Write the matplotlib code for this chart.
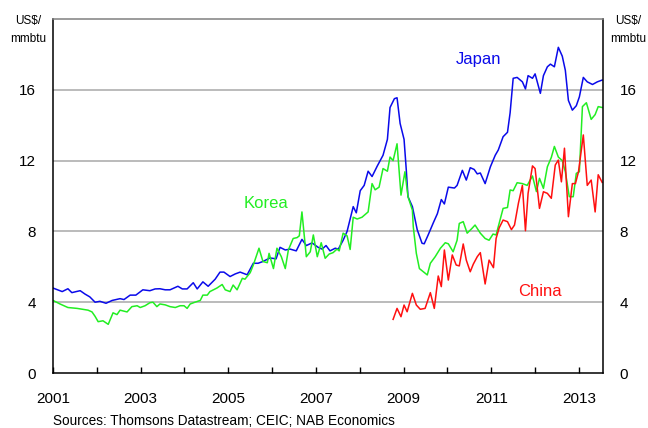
import matplotlib
matplotlib.use('Agg')
import matplotlib.pyplot as plt
from matplotlib.ticker import FixedLocator

plt.rcParams['font.family'] = ['Liberation Sans', 'DejaVu Sans']

# LNG import prices, US$/mmbtu (decimal year, value)
japan_t = [2001.00, 2001.21, 2001.34, 2001.43, 2001.53, 2001.62, 2001.73, 2001.84, 2001.96,
           2002.07, 2002.21, 2002.35, 2002.53, 2002.62, 2002.76, 2002.89,
           2003.05, 2003.21, 2003.33, 2003.44, 2003.56, 2003.67, 2003.85, 2003.95,
           2004.06, 2004.20, 2004.29, 2004.42, 2004.54, 2004.70, 2004.81, 2004.90,
           2005.04, 2005.16, 2005.27, 2005.43, 2005.57, 2005.68, 2005.79, 2005.95,
           2006.09, 2006.18, 2006.30, 2006.41, 2006.55, 2006.68, 2006.78, 2006.91,
           2007.05, 2007.14, 2007.23, 2007.32, 2007.44, 2007.51, 2007.62, 2007.71, 2007.85, 2007.92,
           2008.01, 2008.10, 2008.19, 2008.28, 2008.40, 2008.53, 2008.63, 2008.69, 2008.79, 2008.85, 2008.92,
           2009.01, 2009.06, 2009.10, 2009.20, 2009.31, 2009.42, 2009.47, 2009.56, 2009.68, 2009.77, 2009.86, 2009.93,
           2010.02, 2010.16, 2010.22, 2010.34, 2010.43, 2010.52, 2010.61, 2010.68, 2010.75, 2010.86, 2010.98,
           2011.09, 2011.16, 2011.27, 2011.37, 2011.43, 2011.50, 2011.59, 2011.71, 2011.78, 2011.84, 2011.94,
           2012.00, 2012.12, 2012.19, 2012.28, 2012.35, 2012.44, 2012.53, 2012.62, 2012.69, 2012.76, 2012.85, 2012.94,
           2013.01, 2013.10, 2013.19, 2013.31, 2013.42, 2013.53]
japan_v = [4.8, 4.6, 4.76, 4.54, 4.6, 4.65, 4.46, 4.3, 4.0,
           4.05, 3.94, 4.1, 4.2, 4.15, 4.4, 4.4,
           4.7, 4.65, 4.75, 4.76, 4.7, 4.7, 4.9, 4.75,
           4.75, 5.1, 4.75, 5.15, 4.9, 5.3, 5.7, 5.7,
           5.45, 5.6, 5.7, 5.55, 6.2, 6.2, 6.3, 6.5,
           6.45, 7.1, 6.95, 7.0, 6.9, 7.55, 7.2, 7.35,
           7.1, 7.0, 7.2, 6.9, 7.05, 7.0, 7.5, 8.0, 9.4, 9.05,
           10.3, 10.6, 11.4, 11.1, 11.7, 12.3, 13.2, 15.0, 15.5, 15.55, 14.1,
           13.2, 11.5, 9.96, 9.4, 8.1, 7.33, 7.3, 7.8, 8.5, 9.0, 9.8, 9.55,
           10.5, 10.45, 10.6, 11.45, 10.9, 11.6, 11.5, 11.25, 11.3, 10.7, 11.65,
           12.3, 12.6, 13.35, 13.6, 14.7, 16.65, 16.7, 16.45, 16.05, 16.8, 16.65,
           16.9, 15.8, 16.8, 17.3, 17.45, 17.3, 18.4, 17.9, 17.1, 15.4, 14.85, 15.1,
           15.6, 16.7, 16.45, 16.3, 16.45, 16.55]

korea_t = [2001.00, 2001.16, 2001.34, 2001.55, 2001.68, 2001.80, 2001.89, 2001.96,
           2002.03, 2002.14, 2002.26, 2002.37, 2002.46, 2002.53, 2002.69, 2002.80, 2002.92, 2002.99,
           2003.10, 2003.21, 2003.28, 2003.37, 2003.44, 2003.56, 2003.67, 2003.79, 2003.90, 2003.99,
           2004.06, 2004.13, 2004.24, 2004.36, 2004.42, 2004.52, 2004.58, 2004.74, 2004.86, 2004.93,
           2005.04, 2005.11, 2005.20, 2005.32, 2005.38, 2005.50, 2005.57, 2005.70, 2005.79, 2005.89, 2005.93,
           2006.03, 2006.11, 2006.21, 2006.30, 2006.37, 2006.48, 2006.57, 2006.62, 2006.68, 2006.78, 2006.87, 2006.94,
           2007.03, 2007.12, 2007.21, 2007.30, 2007.39, 2007.48, 2007.53, 2007.62, 2007.71, 2007.78, 2007.85, 2007.94,
           2008.05, 2008.19, 2008.28, 2008.35, 2008.44, 2008.53, 2008.63, 2008.69, 2008.76, 2008.85, 2008.94,
           2009.03, 2009.10, 2009.20, 2009.22, 2009.29, 2009.36, 2009.45, 2009.54, 2009.61, 2009.72, 2009.84, 2009.95,
           2010.02, 2010.13, 2010.22, 2010.27, 2010.36, 2010.45, 2010.56, 2010.63, 2010.75, 2010.86, 2010.95,
           2011.04, 2011.11, 2011.18, 2011.27, 2011.37, 2011.43, 2011.50, 2011.59, 2011.71, 2011.82, 2011.94,
           2012.03, 2012.10, 2012.19, 2012.28, 2012.37, 2012.44, 2012.53, 2012.62, 2012.69, 2012.78, 2012.87, 2012.94,
           2013.01, 2013.08, 2013.17, 2013.28, 2013.37, 2013.44, 2013.53]
korea_v = [4.1, 3.9, 3.7, 3.65, 3.6, 3.55, 3.45, 3.2,
           2.9, 2.95, 2.75, 3.4, 3.3, 3.55, 3.45, 3.75, 3.8, 3.7,
           3.8, 3.97, 4.0, 3.75, 3.9, 3.85, 3.75, 3.7, 3.8, 3.8,
           3.65, 3.9, 4.0, 4.1, 4.4, 4.4, 4.6, 4.8, 5.0, 4.7,
           4.6, 4.97, 4.7, 5.35, 5.3, 5.67, 6.1, 7.05, 6.3, 6.23, 6.76,
           5.9, 7.05, 6.57, 5.9, 6.95, 7.6, 7.65, 7.75, 9.1, 6.57, 6.85, 7.8,
           6.57, 7.36, 6.48, 6.72, 6.8, 7.0, 6.9, 7.9, 7.75, 6.98, 8.8, 8.7,
           8.8, 9.1, 10.7, 10.35, 10.5, 11.55, 11.4, 12.2, 12.0, 12.95, 10.05,
           11.37, 9.96, 9.2, 8.27, 6.76, 5.9, 5.72, 5.54, 6.2, 6.57, 7.05, 7.36,
           7.3, 6.85, 7.5, 8.45, 8.55, 7.9, 8.17, 8.36, 7.9, 7.6, 7.5,
           7.85, 7.8, 8.45, 9.3, 9.35, 10.34, 10.3, 10.75, 10.7, 10.6, 11.13,
           10.25, 11.0, 10.43, 11.65, 12.18, 12.8, 12.2, 12.0, 11.37, 9.96, 9.96, 11.28,
           11.37, 15.05, 15.27, 14.33, 14.6, 15.05, 15.0]

china_t = [2008.76, 2008.85, 2008.94,
           2009.01, 2009.08, 2009.20, 2009.29, 2009.38, 2009.49, 2009.61, 2009.70, 2009.79, 2009.86, 2009.93,
           2010.02, 2010.11, 2010.20, 2010.27, 2010.36, 2010.43, 2010.52, 2010.59, 2010.68, 2010.75, 2010.86, 2010.95,
           2011.05, 2011.11, 2011.18, 2011.27, 2011.37, 2011.46, 2011.53, 2011.62, 2011.71, 2011.78, 2011.84, 2011.94,
           2012.00, 2012.10, 2012.19, 2012.28, 2012.37, 2012.46, 2012.53, 2012.60, 2012.67, 2012.76, 2012.85, 2012.92, 2012.99,
           2013.10, 2013.19, 2013.28, 2013.37, 2013.44, 2013.53]
china_v = [3.03, 3.65, 3.18,
           3.84, 3.46, 4.5, 3.84, 3.6, 3.65, 4.54, 3.65, 5.48, 4.88, 6.95,
           5.25, 6.67, 6.1, 6.05, 7.29, 6.38, 5.72, 6.15, 6.57, 6.8, 5.03, 6.38,
           5.95, 7.6, 8.2, 8.64, 8.55, 8.1, 8.36, 9.6, 10.6, 8.04, 10.15, 11.7,
           11.55, 9.3, 10.24, 10.15, 9.87, 11.75, 12.03, 10.8, 12.7, 8.83, 10.7, 10.7, 11.37,
           13.45, 10.6, 10.9, 9.1, 11.2, 10.77]

year_ticks = list(range(2001, 2014))
year_labels = [str(y) if y % 2 == 1 else '' for y in year_ticks]
value_ticks = [0, 4, 8, 12, 16]

fig = plt.figure(figsize=(6.48, 4.28), dpi=100)
ax = fig.add_axes([0.0818, 0.1285, 0.8488, 0.8271])

ax.plot(japan_t, japan_v, color='#0a0aea', lw=1.1)
ax.plot(korea_t, korea_v, color='#22ee22', lw=1.1)
ax.plot(china_t, china_v, color='#ff1010', lw=1.1)

ax.set_xlim(2001, 2013.55)
ax.set_ylim(0, 20)

# gridlines
for v in value_ticks[1:]:
    ax.axhline(v, color='#a8a8a8', lw=1.1, zorder=0)

ax.xaxis.set_major_locator(FixedLocator(year_ticks))
ax.set_xticklabels(year_labels)
ax.tick_params(axis='x', direction='in', length=4, width=1, pad=14, labelsize=11)
ax.set_yticks(value_ticks)
ax.tick_params(axis='y', length=0, pad=12, labelsize=11, labelright=True, right=False)

for side in ['left', 'bottom', 'right']:
    ax.spines[side].set_color('black')
    ax.spines[side].set_linewidth(1.1)
ax.spines['top'].set_color('#808080')
ax.spines['top'].set_linewidth(1.1)

# units
fig.text(28 / 648, 1 - 21 / 428, 'US$/', ha='center', va='center', fontsize=8.5)
fig.text(28 / 648, 1 - 39 / 428, 'mmbtu', ha='center', va='center', fontsize=8.5)
fig.text(628 / 648, 1 - 21 / 428, 'US$/', ha='center', va='center', fontsize=8.5)
fig.text(628 / 648, 1 - 39 / 428, 'mmbtu', ha='center', va='center', fontsize=8.5)

# series labels
ax.text(2010.7, 17.7, 'Japan', color='#0a0aea', fontsize=12, ha='center', va='center')
ax.text(2005.86, 9.55, 'Korea', color='#22ee22', fontsize=12, ha='center', va='center')
ax.text(2012.12, 4.6, 'China', color='#ff1010', fontsize=12, ha='center', va='center')

fig.text(53 / 648, 1 - 421 / 428, 'Sources: Thomsons Datastream; CEIC; NAB Economics',
         ha='left', va='center', fontsize=9.8)

plt.savefig('out.png', dpi=100)
